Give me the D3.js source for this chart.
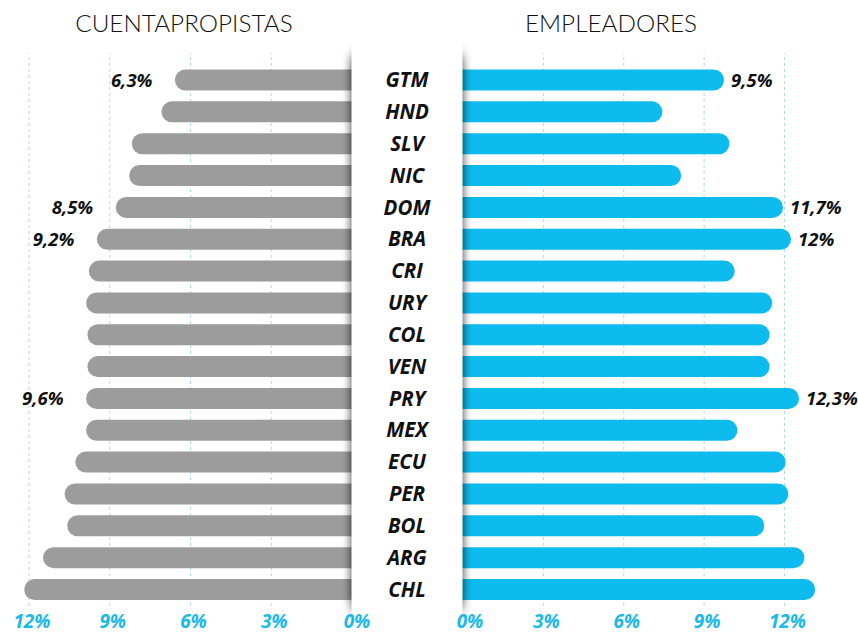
<!DOCTYPE html>
<html>
<head>
<meta charset="utf-8">
<script src="https://cdn.jsdelivr.net/npm/d3@7"></script>
<style>
  html, body { margin: 0; padding: 0; background: #fff; }
  svg { display: block; }
</style>
</head>
<body>
<svg id="chart" width="858" height="633"></svg>
<script>
// data
const countries = ["GTM", "HND", "SLV", "NIC", "DOM", "BRA", "CRI", "URY", "COL",
                   "VEN", "PRY", "MEX", "ECU", "PER", "BOL", "ARG", "CHL"];
const cuentapropistas = [6.3, 6.8, 7.9, 8.0, 8.5, 9.2, 9.5, 9.6, 9.55,
                         9.55, 9.6, 9.6, 10.0, 10.4, 10.3, 11.2, 11.9];
const empleadores = [9.5, 7.2, 9.7, 7.9, 11.7, 12.0, 9.9, 11.3, 11.2,
                     11.2, 12.3, 10.0, 11.8, 11.9, 11.0, 12.5, 12.9];
const leftLabels = ["6,3%", "", "", "", "8,5%", "9,2%", "", "", "",
                    "", "9,6%", "", "", "", "", "", ""];
const rightLabels = ["9,5%", "", "", "", "11,7%", "12%", "", "", "",
                     "", "12,3%", "", "", "", "", "", ""];
const tickValues = [0, 3, 6, 9, 12];

const svg = d3.select("#chart");

const grey = "#9c9c9c";
const blue = "#0ebbee";
const gridColor = "#a9ddf3";
const capExtra = 7;   // rounded end sticks out a bit past the value

const xL = d3.scaleLinear().domain([0, 12]).range([351.5, 28.5]);
const xR = d3.scaleLinear().domain([0, 12]).range([462.5, 784]);
const y = d3.scaleBand().domain(countries).range([64.1, 605.4])
    .paddingInner(0.34).paddingOuter(0.17);

// blur for the panel side shadows
const defs = svg.append("defs");
defs.append("filter").attr("id", "sideBlur")
    .attr("x", "-300%").attr("y", "-10%").attr("width", "700%").attr("height", "120%")
    .append("feGaussianBlur").attr("stdDeviation", "5 7");

// gridlines
const gridL = svg.append("g").attr("transform", "translate(0,606)")
    .call(d3.axisBottom(xL).tickValues([3, 6, 9, 12]).tickSize(-553).tickFormat(""));
const gridR = svg.append("g").attr("transform", "translate(0,606)")
    .call(d3.axisBottom(xR).tickValues([3, 6, 9, 12]).tickSize(-553).tickFormat(""));
[gridL, gridR].forEach(g => {
    g.select(".domain").remove();
    g.selectAll("line").attr("stroke", gridColor).attr("stroke-dasharray", "3,3");
});

// left bars
svg.append("g").selectAll("rect")
    .data(countries)
    .enter().append("rect")
    .attr("x", (d, i) => xL(cuentapropistas[i]) - capExtra)
    .attr("y", d => y(d))
    .attr("width", (d, i) => xL(0) + 20 - xL(cuentapropistas[i]) + capExtra)
    .attr("height", y.bandwidth())
    .attr("rx", y.bandwidth() / 2)
    .attr("fill", grey);

// right bars
svg.append("g").selectAll("rect")
    .data(countries)
    .enter().append("rect")
    .attr("x", xR(0) - 20)
    .attr("y", d => y(d))
    .attr("width", (d, i) => xR(empleadores[i]) - xR(0) + 20 + capExtra)
    .attr("height", y.bandwidth())
    .attr("rx", y.bandwidth() / 2)
    .attr("fill", blue);

// middle panel: shadow only on its two sides
const shadow = svg.append("g").attr("filter", "url(#sideBlur)").attr("opacity", 0.85);
[xL(0), xR(0) - 8].forEach(sx => {
    shadow.append("rect")
        .attr("x", sx).attr("y", 56)
        .attr("width", 8).attr("height", 552)
        .attr("fill", "#000");
});
svg.append("rect")
    .attr("x", xL(0))
    .attr("y", 30)
    .attr("width", xR(0) - xL(0))
    .attr("height", 603)
    .attr("fill", "#fff");

const labelFont = "'Open Sans', 'DejaVu Sans', sans-serif";

// country names
svg.append("g").selectAll("text")
    .data(countries)
    .enter().append("text")
    .attr("x", (xL(0) + xR(0)) / 2)
    .attr("y", d => y(d) + y.bandwidth() / 2 + 7.2)
    .attr("text-anchor", "middle")
    .attr("font-family", labelFont)
    .attr("font-weight", "bold")
    .attr("font-style", "italic")
    .attr("font-size", "20.5px")
    .attr("fill", "#111")
    .text(d => d);

// value labels
svg.append("g").selectAll("text")
    .data(countries)
    .enter().append("text")
    .attr("x", (d, i) => xL(cuentapropistas[i]) - 29.5)
    .attr("y", d => y(d) + y.bandwidth() / 2 + 6.8)
    .attr("text-anchor", "end")
    .attr("font-family", labelFont)
    .attr("font-weight", "bold")
    .attr("font-style", "italic")
    .attr("font-size", "18.5px")
    .attr("fill", "#111")
    .text((d, i) => leftLabels[i]);

svg.append("g").selectAll("text")
    .data(countries)
    .enter().append("text")
    .attr("x", (d, i) => xR(empleadores[i]) + 14)
    .attr("y", d => y(d) + y.bandwidth() / 2 + 6.8)
    .attr("text-anchor", "start")
    .attr("font-family", labelFont)
    .attr("font-weight", "bold")
    .attr("font-style", "italic")
    .attr("font-size", "18.5px")
    .attr("fill", "#111")
    .text((d, i) => rightLabels[i]);

// bottom tick labels
const fmt = d => d + "%";
[xL, xR].forEach(sc => {
    const ax = svg.append("g").attr("transform", "translate(0,611)")
        .call(d3.axisBottom(sc).tickValues(tickValues).tickSize(0).tickFormat(fmt));
    ax.select(".domain").remove();
    ax.selectAll("text")
        .attr("dx", d => d === 0 ? (sc === xL ? 5 : 7) : 3)
        .attr("dy", "0.71em")
        .attr("font-family", labelFont)
        .attr("font-weight", "bold")
        .attr("font-style", "italic")
        .attr("font-size", "19px")
        .attr("fill", "#1ab9ea");
});

// titles
const titleFont = "Lato, 'Open Sans', sans-serif";
svg.append("text")
    .attr("x", 184).attr("y", 31.5)
    .attr("text-anchor", "middle")
    .attr("font-family", titleFont)
    .attr("font-weight", 300)
    .attr("font-size", "24.3px")
    .attr("fill", "#111")
    .text("CUENTAPROPISTAS");
svg.append("text")
    .attr("x", 611).attr("y", 31.5)
    .attr("text-anchor", "middle")
    .attr("font-family", titleFont)
    .attr("font-weight", 300)
    .attr("font-size", "24.3px")
    .attr("fill", "#111")
    .text("EMPLEADORES");
</script>
</body>
</html>
